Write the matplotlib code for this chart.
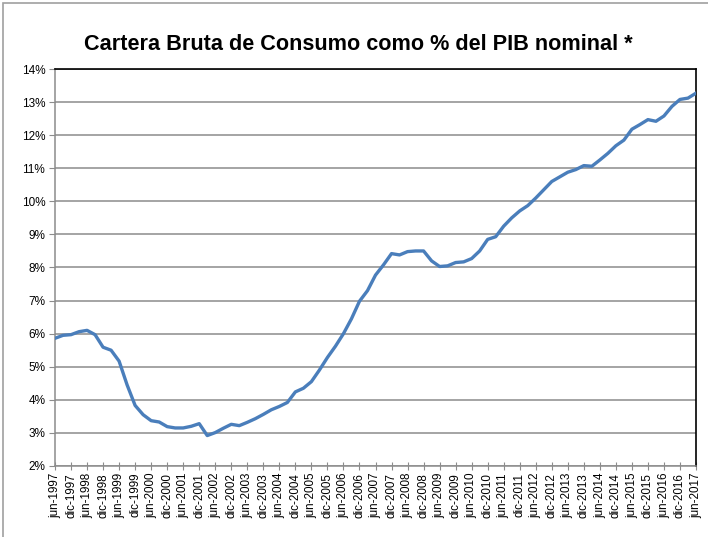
import matplotlib
matplotlib.use("Agg")
import matplotlib.pyplot as plt
from matplotlib.patches import Rectangle

plt.rcParams['font.family'] = ['Liberation Sans', 'DejaVu Sans']

# Quarterly series, jun-1997 .. jun-2017 (percent of nominal GDP)
cartera_pib = [
    5.86, 5.95, 5.97, 6.06, 6.10, 5.97, 5.59, 5.50, 5.17, 4.45,
    3.83, 3.55, 3.37, 3.33, 3.19, 3.15, 3.15, 3.20, 3.28, 2.92,
    3.01, 3.14, 3.26, 3.22, 3.32, 3.43, 3.56, 3.70, 3.80, 3.92,
    4.24, 4.35, 4.55, 4.90, 5.28, 5.62, 6.00, 6.45, 6.98, 7.30,
    7.77, 8.08, 8.42, 8.38, 8.48, 8.50, 8.50, 8.20, 8.03, 8.05,
    8.15, 8.17, 8.27, 8.50, 8.85, 8.93, 9.25, 9.50, 9.71, 9.87,
    10.10, 10.35, 10.60, 10.74, 10.88, 10.96, 11.08, 11.06, 11.25, 11.45,
    11.68, 11.85, 12.18, 12.32, 12.47, 12.42, 12.58, 12.87, 13.08, 13.12,
    13.27,
]

first_year = 1997
last_year = 2017
tick_labels = []
for year in range(first_year, last_year + 1):
    tick_labels.append(f"jun-{year}")
    if year < last_year:
        tick_labels.append(f"dic-{year}")

y_ticks = list(range(2, 15))
title = "Cartera Bruta de Consumo como % del PIB nominal *"

fig = plt.figure(figsize=(7.08, 5.37), dpi=100)
fig.patch.set_facecolor("white")

# outer chart frame
fig.add_artist(Rectangle((3 / 708, -0.1), 1.2, (537 - 3) / 537 + 0.1,
                         transform=fig.transFigure, fill=False,
                         edgecolor="#a0a0a0", linewidth=1.2))

ax = fig.add_axes([55 / 708, 1 - 466 / 537, (696 - 55) / 708, (466 - 69) / 537])

x = list(range(len(cartera_pib)))
ax.plot(x, cartera_pib, color="#4a7ebb", linewidth=2.4, solid_joinstyle="round",
        zorder=3)

ax.set_xlim(0, len(cartera_pib) - 1)
ax.set_ylim(2, 14)
ax.set_yticks(y_ticks)
ax.set_yticklabels([f"{v}%" for v in y_ticks], fontsize=8.5)
ax.set_xticks(list(range(0, len(cartera_pib), 2)))
ax.set_xticklabels(tick_labels, rotation=90, fontsize=8.4)

ax.grid(axis="y", color="#8c8c8c", linewidth=1.1)
ax.set_axisbelow(True)

for side in ("top", "right"):
    ax.spines[side].set_color("#000000")
    ax.spines[side].set_linewidth(1.2)
for side in ("left", "bottom"):
    ax.spines[side].set_color("#8c8c8c")
    ax.spines[side].set_linewidth(1.1)

ax.tick_params(axis="y", direction="out", length=4, color="#8c8c8c", pad=3)
ax.tick_params(axis="x", direction="inout", length=6, color="#8c8c8c", pad=2)

fig.text(358 / 708, 1 - 45 / 537, title, ha="center", va="center",
         fontsize=15.6, fontweight="bold")

fig.savefig("out.png", dpi=100)
